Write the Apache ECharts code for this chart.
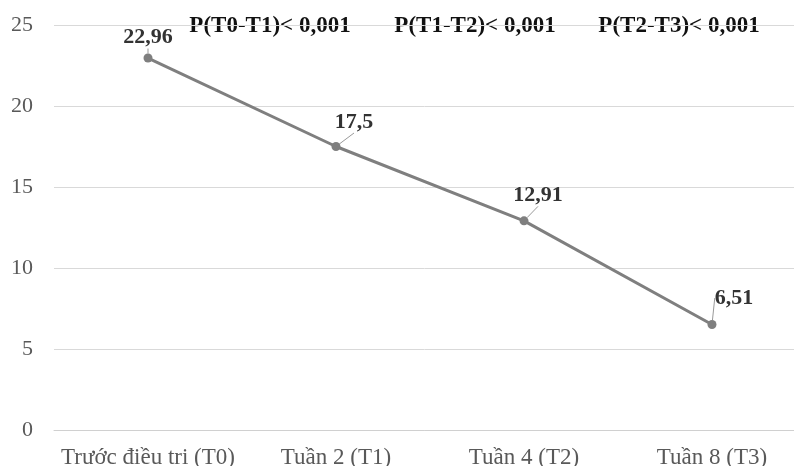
<!DOCTYPE html>
<html>
<head>
<meta charset="utf-8">
<script src="https://cdn.jsdelivr.net/npm/echarts@6/dist/echarts.min.js"></script>
<style>html,body{margin:0;padding:0;background:#fff}#c{width:794px;height:466px}</style>
</head>
<body>
<div id="c"></div>
<script>
var categories = ['Trước điều tri (T0)', 'Tuần 2 (T1)', 'Tuần 4 (T2)', 'Tuần 8 (T3)'];
var values = [22.96, 17.5, 12.91, 6.51];
var pTexts = ['P(T0-T1)< 0,001', 'P(T1-T2)< 0,001', 'P(T2-T3)< 0,001'];
var yTicks = [0, 5, 10, 15, 20, 25];

var labelShift = [[0, 0], [18, -4], [14, -5], [22, -6]];
var pTextX = [270, 475, 679];

var chart = echarts.init(document.getElementById('c'), null, {renderer: 'canvas'});
var serif = '"Liberation Serif", "Times New Roman", serif';
chart.setOption({
  animation: false,
  grid: {left: 54, width: 752, top: 25, bottom: 36, containLabel: false, outerBoundsMode: 'none'},
  xAxis: {
    type: 'category',
    data: categories,
    boundaryGap: true,
    axisLine: {show: true, lineStyle: {color: '#d0d0d0', width: 1}},
    axisTick: {show: false},
    axisLabel: {color: '#595959', fontFamily: serif, fontSize: 23, margin: 16, interval: 0, hideOverlap: false}
  },
  yAxis: {
    type: 'value',
    min: yTicks[0], max: yTicks[yTicks.length - 1], interval: 5,
    axisLine: {show: false},
    axisTick: {show: false},
    axisLabel: {color: '#595959', fontFamily: serif, fontSize: 22, margin: 21},
    splitLine: {lineStyle: {color: '#d9d9d9', width: 1}}
  },
  series: [{
    type: 'line',
    data: values,
    symbol: 'circle',
    symbolSize: 9,
    itemStyle: {color: '#7f7f7f'},
    lineStyle: {color: '#7f7f7f', width: 3},
    label: {
      show: true, position: 'top', distance: 5,
      formatter: function (p) { return String(p.value).replace('.', ','); },
      fontFamily: serif, fontSize: 22, fontWeight: 'bold', color: '#333333'
    },
    labelLine: {show: true, lineStyle: {color: '#999999', width: 1}},
    labelLayout: function (params) {
      var s = labelShift[params.dataIndex];
      return {dx: s[0], dy: s[1]};
    }
  }],
  graphic: pTexts.map(function (t, i) {
    return {
      type: 'text', x: pTextX[i], y: 26,
      style: {text: t, fill: '#111111', font: 'bold 23px ' + serif, textAlign: 'center', textVerticalAlign: 'middle'}
    };
  })
});
</script>
</body>
</html>
